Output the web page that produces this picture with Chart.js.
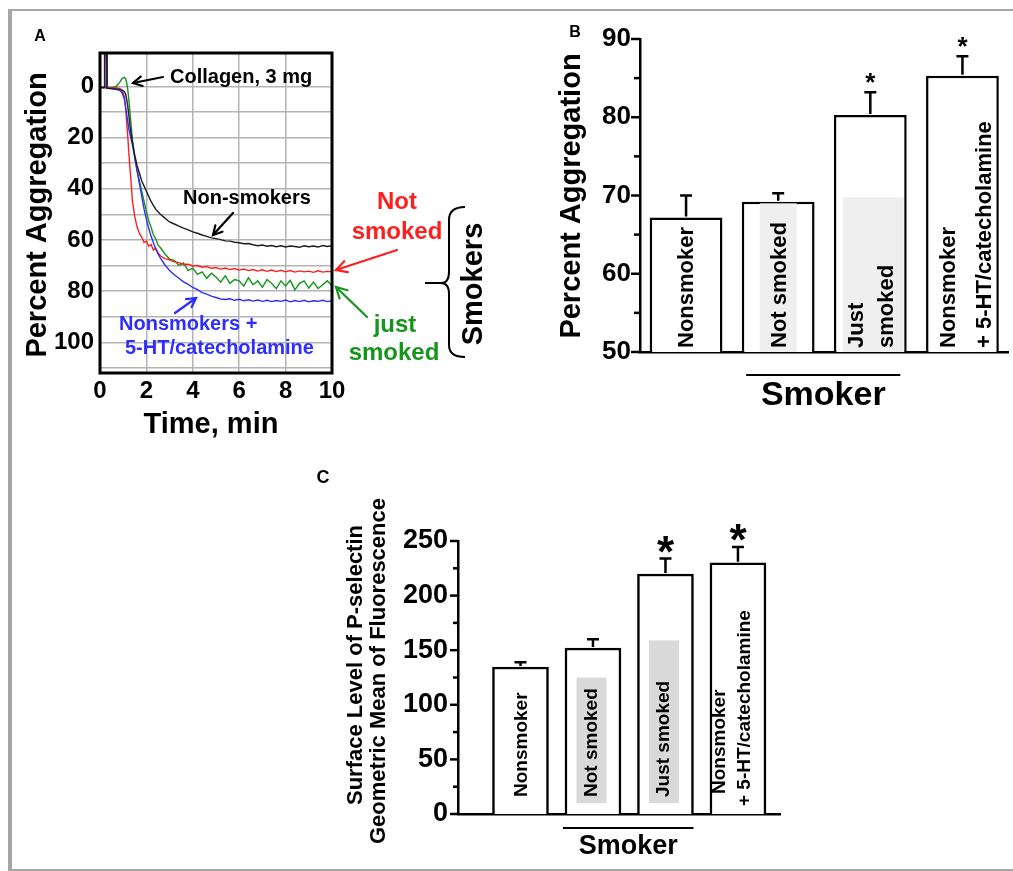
<!DOCTYPE html>
<html lang="en">
<head>
<meta charset="UTF-8">
<title>Platelet aggregation and P-selectin in smokers</title>
<script src="https://cdn.jsdelivr.net/npm/chart.js"></script>
<style>
  html, body { margin: 0; padding: 0; background: #fff; overflow: hidden; }
  body { width: 1013px; height: 871px; position: relative; }
  .frame { position: absolute; left: 8px; top: 9px; width: 1040px; height: 862px; box-sizing: border-box;
           border: 2px solid #a6a6a6; border-left-width: 4px; }
  canvas { position: absolute; }
  #chartA { left: 0; top: 0; }
  #chartB { left: 520px; top: 0; }
  #chartC { left: 280px; top: 450px; }
</style>
</head>
<body>
<div class="frame"></div>
<canvas id="chartA" width="520" height="450"></canvas>
<canvas id="chartB" width="493" height="440"></canvas>
<canvas id="chartC" width="520" height="421"></canvas>

<script>
// ---- panel A: aggregation traces (percent, 0 at top) ----
const timeA = [0, 0.18, 0.2, 0.28, 0.3, 0.5, 0.7, 0.85, 0.95, 1.05, 1.1, 1.15, 1.2, 1.25, 1.3, 1.35, 1.4, 1.5, 1.6, 1.7, 1.8, 1.9, 2.0, 2.1, 2.2, 2.3, 2.4, 2.5,
  2.6, 2.8, 3.0, 3.2, 3.4, 3.6, 3.8, 4.0, 4.2, 4.4, 4.6, 4.8, 5.0, 5.2, 5.4, 5.6, 5.8, 6.0, 6.2, 6.4, 6.6, 6.8, 7.0, 7.2, 7.4, 7.6, 7.8, 8.0, 8.2, 8.4, 8.6, 8.8, 9.0, 9.2, 9.4, 9.6, 9.8, 10.0];
const nonSmokersA = [0.5, 0.5, -15, -15, 0.8, 0.8, 1.0, 1.2, 1.5, 2, 3, 5, 8, 12, 16, 19, 22, 27, 31, 34, 37, 39, 41, 43, 45, 46.5, 48, 49,
  50, 51.5, 53, 53.8, 54.6, 55.4, 56.1, 56.9, 57.4, 58.1, 58.6, 59.2, 59.5, 59.9, 60.4, 60.5, 60.9, 61.1, 61.5, 61.4, 61.9, 62.3, 62, 62.5, 62.2, 62.7, 62.3, 62.8, 62.4, 62.6, 62.9, 62.3, 62.7, 62.4, 62.8, 62.2, 62.6, 62.3];
const notSmokedA = [0.5, 0.5, -15, -15, 0.6, 0.6, 0.7, 0.8, 1.5, 4, 8, 14, 20, 27, 33, 39, 45, 51, 55, 57.5, 59, 61, 60.5, 62.5, 61.8, 64, 63.2, 65,
  66.2, 67.3, 67.8, 68.6, 68.9, 69.6, 69.5, 70.2, 70, 70.7, 70.4, 71.1, 70.8, 71.4, 71, 71.6, 71.2, 71.8, 71.4, 72, 71.6, 72.2, 71.7, 72.3, 71.8, 72.4, 71.9, 72.5, 72, 72.6, 72.1, 72.5, 72.2, 72.7, 72.1, 72.6, 72.3, 72.5];
const justSmokedA = [0.5, 0.5, 0.5, 0.5, 0.5, 0.5, 0, -1.5, -3, -3.5, -3, -1.5, 1.5, 6, 11, 16, 21, 28, 33, 37, 41, 45, 49, 52.5, 55, 58, 59.5, 62,
  63, 65.5, 67.5, 68, 70, 69, 72, 71, 73.5, 72.5, 75, 73, 74.5, 76.5, 74, 77, 75.5, 76, 78, 74.8, 77.5, 76, 78.5, 75.5, 77, 79, 76, 78, 75.8, 79.5, 77, 76, 78.8, 76.5, 79, 77.5, 76, 78];
const agonistsA = [0.5, 0.5, -15, -15, 0.8, 1.0, 1.3, 1.6, 2.5, 5, 8, 11, 14, 17, 19, 21, 23, 28, 33, 38, 43, 48, 52, 55.5, 58.5, 61, 63.5, 65.5,
  67, 69.8, 72, 73.6, 75, 76.4, 77.4, 78.6, 79.4, 80.6, 81.2, 82, 82.5, 83.1, 83.3, 83.0, 83.6, 83.2, 83.8, 83.4, 83.9, 83.5, 84, 83.6, 84.1, 83.7, 84, 83.5, 84.2, 83.7, 84.1, 83.6, 84.2, 83.8, 84, 83.6, 84.1, 83.8];
const yTicksA = [0, 20, 40, 60, 80, 100];
const yGridA = [0, 10, 20, 30, 40, 50, 60, 70, 80, 90, 100, 110];

// ---- panel B: percent aggregation ----
const groupsB = [['Nonsmoker'], ['Not smoked'], ['Just', 'smoked'], ['Nonsmoker', '+ 5-HT/catecholamine']];
const aggregationB = [67.2, 69.2, 80.3, 85.3];
const semB = [2.8, 1.1, 2.9, 2.5];
const starB = [false, false, true, true];
const yTicksB = [50, 60, 70, 80, 90];

// ---- panel C: surface P-selectin ----
const groupsC = [['Nonsmoker'], ['Not smoked'], ['Just smoked'], ['Nonsmoker', '+ 5-HT/catecholamine']];
const pselectinC = [134.6, 152, 219.8, 230];
const semC = [4.4, 8, 14.2, 14.5];
const starC = [false, false, true, true];
const yTicksC = [0, 50, 100, 150, 200, 250];

const FONT = '"Liberation Sans", Arial, Helvetica, sans-serif';
Chart.defaults.font.family = FONT;
Chart.defaults.font.weight = 'bold';
Chart.defaults.color = '#000';
Chart.defaults.animation = false;
Chart.defaults.responsive = false;
Chart.defaults.plugins.legend.display = false;
Chart.defaults.plugins.tooltip.enabled = false;

function txt(ctx, s, x, y, size, o = {}) {
  ctx.save();
  ctx.font = `bold ${size}px ${FONT}`;
  ctx.fillStyle = o.color || '#000';
  ctx.textAlign = o.align || 'center';
  ctx.textBaseline = o.baseline || 'middle';
  ctx.translate(x, y);
  if (o.rot) ctx.rotate(o.rot);
  ctx.fillText(s, 0, 0);
  ctx.restore();
}

function arrow(ctx, x1, y1, x2, y2, color, head = 10) {
  const a = Math.atan2(y2 - y1, x2 - x1);
  ctx.save();
  ctx.strokeStyle = color; ctx.lineWidth = 2.2; ctx.lineCap = 'round';
  ctx.beginPath(); ctx.moveTo(x1, y1); ctx.lineTo(x2, y2); ctx.stroke();
  ctx.beginPath();
  ctx.moveTo(x2 - head * Math.cos(a - 0.5), y2 - head * Math.sin(a - 0.5));
  ctx.lineTo(x2, y2);
  ctx.lineTo(x2 - head * Math.cos(a + 0.5), y2 - head * Math.sin(a + 0.5));
  ctx.stroke();
  ctx.restore();
}

const UP = -Math.PI / 2;

// ---------------- Panel A ----------------
const traceColors = { black: '#1e1e1e', red: '#ff1e1e', green: '#17951a', blue: '#2d2dff' };
const pts = arr => timeA.map((t, i) => ({ x: t, y: arr[i] }));

const annotA = {
  id: 'annotA',
  afterDraw(chart) {
    const { ctx, chartArea: a } = chart;
    ctx.save();
    ctx.strokeStyle = '#000'; ctx.lineWidth = 3;
    ctx.strokeRect(a.left, a.top, a.right - a.left, a.bottom - a.top);
    ctx.restore();

    txt(ctx, 'A', 40, 37, 16);
    txt(ctx, 'Percent Aggregation', 38, 215, 29, { rot: UP });
    txt(ctx, 'Time, min', 211, 425, 29);

    txt(ctx, 'Collagen, 3 mg', 170, 77, 20, { align: 'left' });
    arrow(ctx, 163, 77, 133, 83, '#000');
    txt(ctx, 'Non-smokers', 183, 198, 20, { align: 'left' });
    arrow(ctx, 233, 213, 213, 235, '#000');
    txt(ctx, 'Nonsmokers +', 119, 324, 20, { align: 'left', color: traceColors.blue });
    txt(ctx, '5-HT/catecholamine', 125, 348, 20, { align: 'left', color: traceColors.blue });
    arrow(ctx, 175, 313, 196, 298, traceColors.blue);

    txt(ctx, 'Not', 397, 202, 24, { color: traceColors.red });
    txt(ctx, 'smoked', 397, 232, 24, { color: traceColors.red });
    arrow(ctx, 397, 250, 336, 270, traceColors.red, 12);
    txt(ctx, 'just', 395, 325, 24, { color: traceColors.green });
    txt(ctx, 'smoked', 394, 353, 24, { color: traceColors.green });
    arrow(ctx, 367, 317, 336, 287, traceColors.green, 12);

    ctx.save();
    ctx.strokeStyle = '#000'; ctx.lineWidth = 2;
    ctx.beginPath();
    ctx.moveTo(465, 207);
    ctx.quadraticCurveTo(449, 207, 449, 220);
    ctx.lineTo(449, 272);
    ctx.quadraticCurveTo(449, 283, 441, 283);
    ctx.quadraticCurveTo(449, 283, 449, 294);
    ctx.lineTo(449, 345);
    ctx.quadraticCurveTo(449, 357, 465, 357);
    ctx.moveTo(425, 283); ctx.lineTo(441, 283);
    ctx.stroke();
    ctx.restore();
    txt(ctx, 'Smokers', 474, 284, 29, { rot: UP });
  }
};

new Chart(document.getElementById('chartA'), {
  type: 'line',
  data: {
    datasets: [
      { label: 'Non-smokers', data: pts(nonSmokersA), borderColor: traceColors.black },
      { label: 'Nonsmokers + 5-HT/catecholamine', data: pts(agonistsA), borderColor: traceColors.blue },
      { label: 'Not smoked', data: pts(notSmokedA), borderColor: traceColors.red },
      { label: 'Just smoked', data: pts(justSmokedA), borderColor: traceColors.green }
    ]
  },
  options: {
    layout: { padding: { top: 53, right: 188, left: 0, bottom: 0 } },
    elements: { point: { radius: 0 }, line: { borderWidth: 1.4, tension: 0 } },
    scales: {
      x: {
        type: 'linear', min: 0, max: 10,
        afterFit(s) { s.height = 77; },
        ticks: { stepSize: 2, padding: 4, font: { size: 24, weight: 'bold' } },
        grid: { color: '#b3b3b3', lineWidth: 1.5, drawTicks: false },
        border: { display: false }
      },
      y: {
        reverse: true, min: -13, max: 112,
        afterFit(s) { s.width = 100; },
        afterBuildTicks(s) { s.ticks = yGridA.map(v => ({ value: v })); },
        ticks: { padding: 6, autoSkip: false, font: { size: 24, weight: 'bold' },
                 callback: v => yTicksA.includes(v) ? String(v) : '' },
        grid: { color: '#b3b3b3', lineWidth: 1.5, drawTicks: false },
        border: { display: false }
      }
    }
  },
  plugins: [annotA]
});

// ---------------- Panels B and C ----------------
function barDecor(cfg) {
  return {
    id: 'decor' + cfg.name,
    afterDatasetsDraw(chart) {
      const { ctx, chartArea: a } = chart;
      const ys = chart.scales.y;
      const bars = chart.getDatasetMeta(0).data;

      // shaded label backgrounds inside bars
      cfg.shade.forEach((sh, i) => {
        if (!sh) return;
        const cx = bars[i].x + sh.dx;
        const top = ys.getPixelForValue(sh.to), bot = ys.getPixelForValue(sh.from);
        ctx.fillStyle = cfg.shadeColor;
        ctx.fillRect(cx - sh.w / 2, top, sh.w, bot - top);
      });

      // rotated group labels
      cfg.groups.forEach((lines, i) => {
        lines.forEach((s, j) => {
          txt(ctx, s, bars[i].x + cfg.lineDx[i][j], a.bottom - cfg.labelLift[i][j], cfg.labelSize, { rot: UP, align: 'left' });
        });
      });

      // error bars and significance marks
      ctx.save();
      ctx.strokeStyle = '#000'; ctx.lineWidth = 2.5;
      cfg.values.forEach((v, i) => {
        const x = bars[i].x, y0 = ys.getPixelForValue(v), y1 = ys.getPixelForValue(v + cfg.sem[i]);
        ctx.beginPath();
        ctx.moveTo(x, y0 - 1); ctx.lineTo(x, y1);
        ctx.moveTo(x - cfg.cap, y1); ctx.lineTo(x + cfg.cap, y1);
        ctx.stroke();
        if (cfg.star[i]) txt(ctx, '*', x, y1 - cfg.starGap + 0.575 * cfg.starSize, cfg.starSize, { baseline: 'alphabetic' });
      });

      // y tick marks: labelled ticks long, others short
      ys.ticks.forEach(t => {
        const y = ys.getPixelForValue(t.value);
        const len = t.label !== '' ? cfg.majorLen : cfg.minorLen;
        ctx.beginPath(); ctx.moveTo(a.left - len, y); ctx.lineTo(a.left, y); ctx.stroke();
      });

      // "Smoker" grouping line under bars 2 and 3
      const lx0 = bars[1].x + cfg.smokerSpan[0], lx1 = bars[2].x + cfg.smokerSpan[1];
      ctx.lineWidth = 2;
      ctx.beginPath(); ctx.moveTo(lx0, a.bottom + cfg.smokerLine); ctx.lineTo(lx1, a.bottom + cfg.smokerLine); ctx.stroke();
      ctx.restore();
      txt(ctx, 'Smoker', (lx0 + lx1) / 2, a.bottom + cfg.smokerText, cfg.smokerSize);

      cfg.titles(ctx);
    }
  };
}

const barBase = {
  backgroundColor: '#fff', borderColor: '#000', borderWidth: 2.5
};

new Chart(document.getElementById('chartB'), {
  type: 'bar',
  data: {
    labels: groupsB,
    datasets: [{ label: 'Percent Aggregation', data: aggregationB, ...barBase, barPercentage: 0.79, categoryPercentage: 1 }]
  },
  options: {
    layout: { padding: { top: 39, right: 4.5, left: 0, bottom: 0 } },
    scales: {
      x: {
        afterFit(s) { s.height = 88; },
        ticks: { display: false },
        grid: { display: false, drawTicks: false },
        border: { display: true, color: '#000', width: 2.5 }
      },
      y: {
        min: 50, max: 90,
        afterFit(s) { s.width = 120; },
        ticks: { stepSize: 5, padding: 9, autoSkip: false, font: { size: 26, weight: 'bold' },
                 callback: v => yTicksB.includes(v) ? String(v) : '' },
        grid: { display: false, drawTicks: false },
        border: { display: true, color: '#000', width: 2.5 }
      }
    }
  },
  plugins: [barDecor({
    name: 'B', groups: groupsB, values: aggregationB, sem: semB, star: starB,
    shadeColor: '#efefef',
    shade: [null, { from: 50, to: 69.0, w: 37, dx: 0 }, { from: 50, to: 69.8, w: 61, dx: 3 }, null],
    labelSize: 22, lineDx: [[1], [2], [-13, 17], [-14, 22]], labelLift: [[4], [4], [4, 4], [4, 4]],
    cap: 6, starGap: 16, starSize: 26, majorLen: 9, minorLen: 6,
    smokerSpan: [-32, 30], smokerLine: 23, smokerText: 44, smokerSize: 34,
    titles(ctx) {
      txt(ctx, 'B', 55, 33, 16);
      txt(ctx, 'Percent Aggregation', 52, 196, 29, { rot: UP });
    }
  })]
});

new Chart(document.getElementById('chartC'), {
  type: 'bar',
  data: {
    datasets: [{ label: 'Surface P-selectin', data: pselectinC.map((v, i) => ({ x: i + 1, y: v })), ...barBase, barThickness: 56 }]
  },
  options: {
    layout: { padding: { top: 91, right: 20, left: 0, bottom: 0 } },
    scales: {
      x: {
        type: 'linear', min: 0.138, max: 4.58, offset: false,
        afterFit(s) { s.height = 57; },
        ticks: { display: false },
        grid: { display: false, drawTicks: false },
        border: { display: true, color: '#000', width: 2.5 }
      },
      y: {
        min: 0, max: 250,
        afterFit(s) { s.width = 178; },
        ticks: { stepSize: 25, padding: 10, autoSkip: false, font: { size: 27, weight: 'bold' },
                 callback: v => yTicksC.includes(v) ? String(v) : '' },
        grid: { display: false, drawTicks: false },
        border: { display: true, color: '#000', width: 2.5 }
      }
    }
  },
  plugins: [barDecor({
    name: 'C', groups: groupsC, values: pselectinC, sem: semC, star: starC,
    shadeColor: '#d9d9d9',
    shade: [null, { from: 10, to: 125, w: 30, dx: -1.5 }, { from: 10, to: 159, w: 30, dx: -1.5 }, null],
    labelSize: 19, lineDx: [[1], [-1], [-2], [-18, 7]], labelLift: [[17], [17], [17], [20, 8]],
    cap: 6, starGap: 17, starSize: 44, majorLen: 8, minorLen: 5,
    smokerSpan: [-30, 28], smokerLine: 14, smokerText: 33, smokerSize: 27,
    titles(ctx) {
      txt(ctx, 'C', 43, 28, 18);
      txt(ctx, 'Surface Level of P-selectin', 76, 215, 22, { rot: UP });
      txt(ctx, 'Geometric Mean of Fluorescence', 99, 221, 22, { rot: UP });
    }
  })]
});
</script>
</body>
</html>
